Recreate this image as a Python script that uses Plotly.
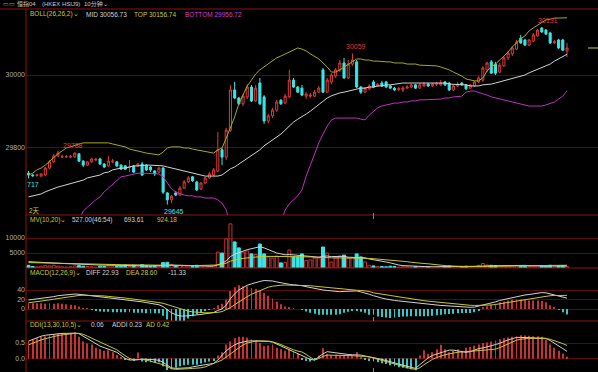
import plotly.graph_objects as go

W, H = 598, 372

# ---------------- data ----------------
idx = list(range(129))

open_ = [29731, 29726, 29725, 29723, 29726, 29745, 29762, 29778, 29775, 29776,
         29775, 29776, 29784, 29764, 29753, 29762, 29767, 29770, 29756, 29751,
         29762, 29762, 29753, 29751, 29747, 29751, 29751, 29756, 29753, 29748,
         29737, 29734, 29745, 29677, 29658, 29677, 29671, 29690, 29707, 29721,
         29707, 29688, 29704, 29718, 29726, 29737, 29795, 29775, 29849, 29959,
         29937, 29921, 29940, 29967, 29929, 29978, 29940, 29874, 29888, 29904,
         29931, 29923, 29940, 29986, 29967, 29964, 29942, 29942, 29942, 29953,
         30014, 29953, 29981, 29997, 30014, 30033, 29992, 30030, 30036, 29967,
         29953, 29962, 29981, 29970, 29978, 29981, 29970, 29964, 29961, 29959,
         29964, 29967, 29973, 29964, 29970, 29975, 29970, 29975, 29973, 29981,
         29978, 29959, 29970, 29978, 29973, 29964, 29970, 29981, 29986, 30014,
         30036, 30030, 30008, 30025, 30047, 30058, 30071, 30101, 30096, 30082,
         30093, 30107, 30129, 30123, 30115, 30088, 30096, 30096, 30066]

high = [29737, 29729, 29729, 29731, 29748, 29767, 29784, 29792, 29781, 29781,
        29781, 29788, 29786, 29767, 29764, 29773, 29773, 29773, 29759, 29778,
        29770, 29764, 29756, 29753, 29767, 29753, 29759, 29762, 29756, 29751,
        29740, 29748, 29748, 29679, 29671, 29682, 29696, 29712, 29723, 29723,
        29710, 29707, 29721, 29734, 29745, 29844, 29800, 29855, 29973, 29981,
        29940, 29948, 29975, 29973, 29973, 29992, 29945, 29893, 29910, 29932,
        29934, 29948, 30014, 29992, 29970, 29973, 29953, 29951, 29959, 29970,
        30019, 29992, 30005, 30019, 30041, 30047, 30041, 30059, 30041, 29970,
        29967, 29975, 29986, 29978, 29984, 29984, 29973, 29967, 29967, 29970,
        29973, 29975, 29975, 29978, 29981, 29978, 29978, 29981, 29986, 29984,
        29981, 29973, 29981, 29981, 29975, 29975, 29984, 29997, 30025, 30036,
        30041, 30036, 30033, 30052, 30066, 30079, 30096, 30110, 30099, 30099,
        30115, 30126, 30131, 30126, 30118, 30096, 30099, 30099, 30088]

low = [29717, 29721, 29721, 29721, 29723, 29742, 29759, 29775, 29773, 29773,
       29772, 29773, 29762, 29748, 29751, 29759, 29764, 29753, 29745, 29748,
       29759, 29748, 29740, 29740, 29734, 29731, 29748, 29723, 29737, 29734,
       29723, 29731, 29674, 29645, 29649, 29668, 29668, 29688, 29704, 29707,
       29682, 29685, 29701, 29715, 29723, 29734, 29753, 29767, 29844, 29934,
       29918, 29915, 29934, 29926, 29926, 29918, 29866, 29868, 29882, 29899,
       29918, 29921, 29937, 29964, 29951, 29942, 29934, 29937, 29940, 29951,
       29951, 29951, 29975, 29992, 30008, 29989, 29989, 30025, 29964, 29948,
       29951, 29959, 29964, 29967, 29967, 29964, 29962, 29956, 29956, 29953,
       29962, 29964, 29962, 29962, 29967, 29967, 29967, 29970, 29970, 29970,
       29956, 29956, 29967, 29970, 29959, 29962, 29967, 29978, 29981, 30008,
       30003, 30000, 30005, 30022, 30041, 30052, 30068, 30085, 30079, 30079,
       30090, 30104, 30115, 30110, 30085, 30085, 30071, 30066, 30049]

close = [29726, 29724, 29726, 29729, 29745, 29762, 29778, 29786, 29776, 29776,
         29777, 29786, 29764, 29753, 29762, 29770, 29769, 29756, 29748, 29764,
         29764, 29751, 29742, 29742, 29748, 29734, 29756, 29726, 29740, 29740,
         29729, 29745, 29679, 29658, 29668, 29671, 29690, 29707, 29718, 29710,
         29685, 29704, 29718, 29729, 29740, 29795, 29775, 29849, 29959, 29937,
         29921, 29942, 29967, 29929, 29964, 29921, 29874, 29888, 29904, 29926,
         29921, 29942, 29986, 29967, 29953, 29945, 29948, 29945, 29953, 29964,
         29953, 29986, 30000, 30014, 30033, 29992, 30030, 30041, 29967, 29953,
         29964, 29970, 29967, 29975, 29970, 29967, 29964, 29959, 29962, 29964,
         29967, 29973, 29964, 29973, 29975, 29970, 29975, 29976, 29978, 29973,
         29959, 29970, 29975, 29973, 29962, 29973, 29981, 29992, 30019, 30033,
         30005, 30005, 30027, 30047, 30060, 30074, 30090, 30088, 30082, 30096,
         30110, 30123, 30118, 30112, 30088, 30091, 30074, 30068, 30074]

boll_top = [29726, 29731, 29740, 29745, 29753, 29764, 29775, 29784, 29792, 29800,
            29803, 29808, 29811, 29814, 29814, 29814, 29814, 29814, 29814, 29814,
            29811, 29808, 29806, 29803, 29797, 29795, 29792, 29789, 29786, 29784,
            29784, 29781, 29789, 29800, 29803, 29803, 29803, 29800, 29800, 29797,
            29795, 29792, 29789, 29789, 29786, 29795, 29800, 29827, 29855, 29885,
            29921, 29948, 29970, 29986, 30003, 30014, 30022, 30030, 30038, 30047,
            30052, 30058, 30063, 30068, 30074, 30071, 30066, 30058, 30052, 30044,
            30033, 30022, 30008, 30008, 30014, 30022, 30030, 30038, 30044, 30044,
            30041, 30041, 30038, 30038, 30036, 30036, 30036, 30033, 30033, 30033,
            30030, 30030, 30030, 30027, 30027, 30027, 30025, 30025, 30022, 30019,
            30014, 30008, 30003, 29997, 29989, 29986, 29984, 29984, 29992, 30011,
            30022, 30030, 30041, 30052, 30063, 30077, 30088, 30099, 30107, 30121,
            30129, 30137, 30145, 30151, 30153, 30156, 30156, 30156, 30156.74]

boll_mid = [29666, 29669, 29671, 29674, 29680, 29685, 29688, 29693, 29696, 29699,
            29704, 29707, 29710, 29712, 29718, 29721, 29723, 29726, 29732, 29734,
            29740, 29743, 29745, 29745, 29748, 29751, 29751, 29753, 29753, 29753,
            29753, 29753, 29751, 29748, 29745, 29743, 29740, 29737, 29734, 29732,
            29729, 29726, 29723, 29723, 29723, 29723, 29726, 29734, 29743, 29748,
            29756, 29762, 29770, 29778, 29786, 29795, 29806, 29814, 29822, 29830,
            29838, 29849, 29860, 29871, 29879, 29885, 29893, 29901, 29910, 29921,
            29929, 29937, 29943, 29948, 29951, 29953, 29956, 29959, 29962, 29964,
            29964, 29967, 29967, 29970, 29970, 29973, 29973, 29975, 29975, 29978,
            29978, 29978, 29978, 29978, 29978, 29978, 29978, 29978, 29978, 29978,
            29975, 29975, 29973, 29973, 29973, 29970, 29970, 29970, 29973, 29973,
            29975, 29978, 29981, 29984, 29986, 29989, 29992, 29995, 30000, 30006,
            30011, 30014, 30019, 30025, 30030, 30038, 30044, 30052, 30056.73]

boll_bot = [None, None, None, None, None, None, None, None, None, None,
            None, None, 29603, 29627, 29638, 29649, 29658, 29666, 29680, 29690,
            29701, 29712, 29721, 29723, 29726, 29729, 29731, 29731, 29731, 29731,
            29731, 29729, 29721, 29704, 29688, 29679, 29674, 29671, 29669, 29669,
            29666, 29666, 29663, 29663, 29663, 29658, 29649, 29630, 29589, None,
            None, None, None, None, None, None, None, None, None, None,
            29597, 29630, 29647, 29658, 29669, 29685, 29723, 29753, 29786, 29814,
            29838, 29860, 29877, 29882, 29882, 29882, 29882, 29882, 29882, 29879,
            29877, 29890, 29901, 29910, 29915, 29918, 29921, 29923, 29923, 29926,
            29926, 29929, 29929, 29932, 29932, 29932, 29934, 29934, 29934, 29937,
            29937, 29940, 29940, 29942, 29953, 29956, 29956, 29953, 29948, 29945,
            29940, 29937, 29934, 29932, 29929, 29926, 29923, 29921, 29918, 29915,
            29915, 29915, 29915, 29918, 29921, 29926, 29934, 29942, 29956.72]

volume = [900, 500, 400, 600, 800, 700, 900, 600, 400, 300,
          400, 700, 800, 600, 500, 400, 300, 600, 500, 700,
          400, 500, 600, 1000, 500, 900, 400, 1100, 800, 600,
          700, 500, 1800, 1900, 1200, 700, 800, 700, 600, 500,
          900, 600, 700, 600, 800, 5300, 5000, 9700, 14700, 8700,
          6700, 5300, 5700, 4700, 4500, 8000, 4700, 3700, 3300, 4000,
          1700, 1800, 6000, 3700, 3700, 4700, 2500, 2700, 3300, 3300,
          7000, 5000, 2000, 3300, 4000, 4300, 3300, 3500, 4700, 3700,
          2000, 900, 700, 500, 500, 400, 600, 500, 300, 400,
          400, 300, 500, 400, 300, 400, 300, 300, 500, 400,
          700, 400, 300, 400, 600, 400, 500, 900, 1500, 1000,
          900, 800, 700, 700, 600, 600, 700, 800, 600, 500,
          600, 700, 800, 600, 900, 400, 700, 800, 527]

mv10 = [2100, 2000, 1900, 1850, 1800, 1700, 1650, 1600, 1500, 1450,
        1400, 1300, 1250, 1200, 1150, 1100, 1050, 1000, 950, 900,
        850, 800, 750, 700, 700, 700, 650, 700, 700, 700,
        700, 650, 750, 900, 950, 950, 950, 950, 950, 900,
        900, 850, 700, 600, 650, 1100, 1500, 2400, 3800, 4600,
        5200, 5600, 6100, 6400, 6800, 7100, 6700, 6100, 5500, 5000,
        4700, 4400, 4500, 4400, 4300, 4100, 3900, 3800, 3700, 3600,
        3900, 4000, 3800, 3800, 3900, 3900, 3600, 3600, 3600, 3600,
        3400, 3000, 2800, 2600, 2400, 2000, 1700, 1300, 1000, 800,
        700, 600, 500, 450, 450, 420, 400, 400, 400, 400,
        430, 430, 420, 420, 440, 450, 460, 500, 600, 670,
        720, 760, 800, 830, 860, 880, 900, 900, 880, 780,
        720, 690, 690, 680, 700, 680, 690, 700, 693.61]

mv20 = [1800, 1780, 1750, 1720, 1700, 1670, 1640, 1600, 1570, 1540,
        1500, 1470, 1440, 1400, 1370, 1340, 1300, 1270, 1240, 1200,
        1170, 1140, 1100, 1070, 1040, 1000, 970, 950, 930, 900,
        880, 860, 880, 900, 900, 880, 860, 840, 830, 820,
        820, 810, 800, 790, 800, 1000, 1200, 1600, 2300, 2700,
        3000, 3200, 3400, 3500, 3600, 3800, 3900, 3900, 3900, 3900,
        3900, 3900, 3900, 3800, 3800, 3800, 3800, 3700, 3600, 3500,
        3500, 3400, 3400, 3400, 3400, 3400, 3400, 3400, 3400, 3300,
        3300, 3200, 3100, 3000, 2900, 2700, 2600, 2500, 2300, 2200,
        2100, 1900, 1700, 1600, 1500, 1400, 1200, 1100, 900, 800,
        700, 600, 550, 500, 480, 460, 460, 480, 520, 550,
        580, 600, 630, 650, 680, 700, 720, 740, 760, 780,
        800, 820, 840, 860, 880, 890, 900, 910, 924.18]

macd_diff = [19, 20, 21, 22, 23, 25, 26, 28, 29, 30,
             31, 31.5, 31, 30, 29.5, 28.5, 27, 25.5, 24.5, 23.5,
             22.5, 21.5, 20.5, 19.5, 18.5, 17, 16, 15, 13.5, 12,
             10.5, 9, 5, -2, -8, -12, -14.5, -15, -14.5, -13.5,
             -12.5, -11.5, -10, -8.5, -7.5, -3, 0, 8, 22, 32,
             40, 45, 50, 53, 56, 58, 60, 60, 59, 57,
             55, 53, 52, 51, 50.5, 49, 47, 45, 43, 41,
             40, 39, 38, 37, 36.5, 37, 37.5, 38.5, 38, 36,
             34, 31, 28, 25, 23, 21, 19, 18, 17, 16,
             14.5, 13.5, 12, 11, 10, 9, 8.5, 8, 7.5, 7,
             6.3, 5.5, 5, 4.5, 4, 3.6, 4, 6, 9, 11,
             13, 15, 18, 20, 22.5, 25, 27, 28.5, 29.5, 30.5,
             32, 33.5, 34.5, 34, 32, 30, 28, 25.5, 22.93]

macd_dea = [13, 14, 15, 16, 17.5, 19, 20.5, 22, 23.5, 25,
            26.5, 27.5, 28.5, 29, 29, 29, 28.5, 28, 27.5, 26.5,
            26, 25, 24, 23, 22, 21, 20, 19, 18, 16.5,
            15, 13.5, 12, 9, 6, 3, 0, -2.5, -4.5, -6,
            -7, -7.5, -8, -8, -8, -7, -5.5, -2, 3, 9,
            15, 21, 26, 31, 35, 39, 43, 46, 48, 49.5,
            50, 50.5, 50.5, 50.5, 50.5, 50, 49.5, 49, 48, 47,
            46, 45, 44, 43, 42, 41, 40.5, 40, 39.5, 39,
            38, 37, 34, 33, 31.5, 30, 28.5, 27, 25.5, 24,
            22.5, 21, 19.5, 18.5, 17.5, 16.5, 15.5, 14.5, 13.5, 12.5,
            11.5, 10.5, 9.5, 8.8, 8.2, 7.8, 7.5, 7.5, 7.5, 8,
            8.5, 9.5, 11, 12, 13.5, 15, 17, 18.5, 20, 21.5,
            23, 24.5, 26, 27, 28, 28.5, 28.8, 28.8, 28.60]

ddi = [0.55, 0.6, 0.65, 0.7, 0.72, 0.75, 0.78, 0.8, 0.82, 0.8,
       0.82, 0.84, 0.7, 0.55, 0.48, 0.45, 0.35, 0.3, 0.25, 0.27,
       0.2, 0.12, 0.05, -0.03, -0.05, -0.08, 0.19, -0.1, -0.12, -0.12,
       -0.14, -0.12, -0.25, -0.37, -0.35, -0.3, -0.25, -0.22, -0.2, -0.2,
       -0.2, -0.16, -0.13, -0.1, -0.08, 0.1, 0.2, 0.45, 0.55, 0.65,
       0.7, 0.7, 0.68, 0.62, 0.6, 0.5, 0.4, 0.42, 0.45, 0.35,
       0.3, 0.25, 0.28, 0.2, 0.15, -0.05, -0.08, -0.1, -0.05, 0.1,
       0.33, 0.15, 0.1, 0.12, 0.1, 0.08, 0.1, 0.12, 0.2, 0.05,
       -0.05, -0.08, -0.1, -0.12, -0.15, -0.18, -0.22, -0.25, -0.28, -0.3,
       -0.32, -0.35, -0.38, 0.1, 0.27, 0.15, 0.2, 0.3, 0.44, 0.3,
       0.2, 0.25, 0.3, 0.25, 0.35, 0.38, 0.42, 0.45, 0.5, 0.52,
       0.55, 0.58, 0.62, 0.65, 0.68, 0.7, 0.72, 0.75, 0.74, 0.73,
       0.72, 0.72, 0.7, 0.6, 0.45, 0.35, 0.25, 0.15, 0.06]

addi = [0.56, 0.62, 0.68, 0.72, 0.75, 0.77, 0.78, 0.8, 0.81, 0.81,
        0.82, 0.82, 0.8, 0.72, 0.62, 0.55, 0.47, 0.4, 0.35, 0.3,
        0.25, 0.2, 0.1, 0.0, -0.05, -0.05, -0.04, -0.02, -0.02, -0.03,
        -0.04, -0.06, -0.12, -0.22, -0.3, -0.32, -0.32, -0.32, -0.3, -0.27,
        -0.24, -0.21, -0.2, -0.18, -0.16, -0.05, 0.1, 0.25, 0.35, 0.44,
        0.5, 0.54, 0.56, 0.57, 0.57, 0.57, 0.56, 0.55, 0.53, 0.47,
        0.4, 0.33, 0.27, 0.22, 0.16, 0.11, 0.05, -0.03, -0.05, 0.05,
        0.15, 0.22, 0.2, 0.17, 0.15, 0.14, 0.13, 0.12, 0.12, 0.11,
        0.08, 0.06, 0.04, 0.0, -0.03, -0.06, -0.1, -0.14, -0.18, -0.22,
        -0.26, -0.3, -0.32, -0.2, -0.08, 0.02, 0.1, 0.14, 0.18, 0.23,
        0.27, 0.27, 0.25, 0.22, 0.2, 0.22, 0.27, 0.32, 0.34, 0.37,
        0.41, 0.45, 0.49, 0.55, 0.6, 0.64, 0.68, 0.68, 0.67, 0.67,
        0.67, 0.66, 0.66, 0.65, 0.58, 0.5, 0.42, 0.32, 0.23]

ad = [0.44, 0.5, 0.55, 0.6, 0.64, 0.68, 0.71, 0.74, 0.76, 0.78,
      0.8, 0.81, 0.81, 0.78, 0.72, 0.66, 0.6, 0.54, 0.48, 0.42,
      0.35, 0.28, 0.18, 0.08, 0.0, -0.04, -0.03, -0.03, -0.05, -0.09,
      -0.13, -0.16, -0.2, -0.27, -0.33, -0.35, -0.35, -0.34, -0.33, -0.32,
      -0.32, -0.3, -0.27, -0.22, -0.17, -0.12, -0.05, 0.05, 0.15, 0.27,
      0.36, 0.44, 0.5, 0.54, 0.56, 0.57, 0.57, 0.56, 0.54, 0.5,
      0.45, 0.39, 0.33, 0.28, 0.24, 0.21, 0.13, 0.04, -0.05, 0.0,
      0.07, 0.11, 0.11, 0.1, 0.1, 0.09, 0.09, 0.09, 0.08, 0.08,
      0.07, 0.05, 0.02, -0.02, -0.06, -0.1, -0.14, -0.18, -0.22, -0.26,
      -0.3, -0.33, -0.35, -0.3, -0.2, -0.1, -0.03, 0.03, 0.08, 0.12,
      0.15, 0.18, 0.2, 0.21, 0.22, 0.22, 0.23, 0.24, 0.25, 0.26,
      0.27, 0.3, 0.35, 0.41, 0.48, 0.54, 0.59, 0.62, 0.64, 0.65,
      0.65, 0.65, 0.65, 0.64, 0.62, 0.58, 0.53, 0.48, 0.42]

# tick labels
price_ticks = [29800, 30000]
vol_ticks = [5000, 10000]
macd_ticks = [0, 20, 40]
ddi_ticks = [0.0, 0.5]
ddi_ticktext = ["0.0", "0.5"]

# ---------------- styling ----------------
BG = "#000000"
RED = "#e03a3a"
BARRED = "#c83232"
CYAN = "#3ae6e6"
YEL = "#c8c832"
WHITE = "#d2d2d2"
MAG = "#c030c0"
GRID = "#5a0808"
SEP = "#8a1616"
TICK = "#b0b0b0"
FONT = "Liberation Sans, Arial, Noto Sans CJK SC, sans-serif"


def ydom(top_px, bot_px):
    return [1 - bot_px / H, 1 - top_px / H]


fig = go.Figure()

# main candles
fig.add_trace(go.Candlestick(
    x=idx, open=open_, high=high, low=low, close=close,
    increasing=dict(line=dict(color=RED, width=1), fillcolor="rgba(0,0,0,0)"),
    decreasing=dict(line=dict(color=CYAN, width=1), fillcolor=CYAN),
    xaxis="x", yaxis="y", showlegend=False, hoverinfo="skip"))

for ser, col in [(boll_top, "#a8a824"), (boll_mid, WHITE), (boll_bot, MAG)]:
    fig.add_trace(go.Scatter(x=idx, y=ser, mode="lines", line=dict(color=col, width=1),
                             xaxis="x", yaxis="y", showlegend=False, hoverinfo="skip",
                             connectgaps=False))

# volume
up = [c >= o for o, c in zip(open_, close)]
fig.add_trace(go.Bar(
    x=idx, y=volume, width=0.7,
    marker=dict(color=["rgba(0,0,0,0)" if u else CYAN for u in up],
                line=dict(color=[BARRED if u else CYAN for u in up], width=1)),
    xaxis="x", yaxis="y2", showlegend=False, hoverinfo="skip"))
fig.add_trace(go.Scatter(x=idx, y=mv10, mode="lines", line=dict(color=WHITE, width=1),
                         xaxis="x", yaxis="y2", showlegend=False, hoverinfo="skip"))
fig.add_trace(go.Scatter(x=idx, y=mv20, mode="lines", line=dict(color=YEL, width=1),
                         xaxis="x", yaxis="y2", showlegend=False, hoverinfo="skip"))

# MACD
macd_bar = [2 * (d - e) for d, e in zip(macd_diff, macd_dea)]
fig.add_trace(go.Bar(
    x=idx, y=macd_bar, width=0.22,
    marker=dict(color=[BARRED if v >= 0 else "#30c8c8" for v in macd_bar], line=dict(width=0)),
    xaxis="x", yaxis="y3", showlegend=False, hoverinfo="skip"))
fig.add_trace(go.Scatter(x=idx, y=macd_diff, mode="lines", line=dict(color=WHITE, width=1),
                         xaxis="x", yaxis="y3", showlegend=False, hoverinfo="skip"))
fig.add_trace(go.Scatter(x=idx, y=macd_dea, mode="lines", line=dict(color=YEL, width=1),
                         xaxis="x", yaxis="y3", showlegend=False, hoverinfo="skip"))

# DDI
fig.add_trace(go.Bar(
    x=idx, y=ddi, width=0.22,
    marker=dict(color=[BARRED if v >= 0 else "#30c8c8" for v in ddi], line=dict(width=0)),
    xaxis="x", yaxis="y4", showlegend=False, hoverinfo="skip"))
fig.add_trace(go.Scatter(x=idx, y=addi, mode="lines", line=dict(color=WHITE, width=1),
                         xaxis="x", yaxis="y4", showlegend=False, hoverinfo="skip"))
fig.add_trace(go.Scatter(x=idx, y=ad, mode="lines", line=dict(color=YEL, width=1),
                         xaxis="x", yaxis="y4", showlegend=False, hoverinfo="skip"))

# ---------------- axes ----------------
x0_px = 26
xstep = 4.207
xfirst = 28.5
xr = [(x0_px - xfirst) / xstep, (W - xfirst) / xstep]

common_y = dict(anchor="x", showgrid=True, gridcolor=GRID, gridwidth=1, zeroline=False,
                showline=False, ticks="", tickfont=dict(family=FONT, size=7, color=TICK),
                fixedrange=True)

fig.update_layout(
    width=W, height=H, margin=dict(l=0, r=0, t=0, b=0),
    paper_bgcolor=BG, plot_bgcolor=BG, barmode="overlay", showlegend=False,
    xaxis=dict(domain=[x0_px / W, 1], range=xr, visible=False, showgrid=False,
               rangeslider=dict(visible=False), fixedrange=True),
    yaxis=dict(domain=ydom(10, 215), range=[30205.5 - 2.74 * 215, 30205.5 - 2.74 * 10],
               tickvals=price_ticks, ticktext=[str(v) for v in price_ticks], **common_y),
    yaxis2=dict(domain=ydom(215, 268), range=[0, 53 * 10000 / 30],
                tickvals=vol_ticks, ticktext=[str(v) for v in vol_ticks], **common_y),
    yaxis3=dict(domain=ydom(268, 321), range=[(309 - 321) * 2.105, (309 - 268) * 2.105],
                tickvals=macd_ticks, ticktext=[str(v) for v in macd_ticks], **common_y),
    yaxis4=dict(domain=ydom(321, 372), range=[(358.5 - 372) / 31, (358.5 - 321) / 31],
                tickvals=ddi_ticks, ticktext=ddi_ticktext, **common_y),
)

# ---------------- frame lines ----------------
shapes = []
shapes.append(dict(type="line", xref="paper", yref="paper", x0=0, x1=1,
                   y0=1 - 9 / H, y1=1 - 9 / H, line=dict(color=SEP, width=1)))
shapes.append(dict(type="line", xref="paper", yref="paper", x0=x0_px / W, x1=x0_px / W,
                   y0=0, y1=1 - 9 / H, line=dict(color=SEP, width=1)))
for py in [215, 268, 321]:
    shapes.append(dict(type="line", xref="paper", yref="paper", x0=x0_px / W, x1=1,
                       y0=1 - py / H, y1=1 - py / H, line=dict(color=SEP, width=1.2)))
# last price marker at right edge
shapes.append(dict(type="line", xref="x", yref="y", x0=133, x1=xr[1],
                   y0=close[-1], y1=close[-1], line=dict(color="#8a8a22", width=1.5)))
# session separator ticks
for py0, py1 in [(213, 219), (317, 321), (368, 372)]:
    shapes.append(dict(type="line", xref="x", yref="paper", x0=82, x1=82,
                       y0=1 - py1 / H, y1=1 - py0 / H, line=dict(color="#888888", width=1)))
fig.update_layout(shapes=shapes)

# ---------------- texts ----------------
ann = []


def txt(s, px, py, color, size=6.5):
    ann.append(dict(text=s, xref="paper", yref="paper", x=px / W, y=1 - py / H,
                    xanchor="left", yanchor="middle", showarrow=False,
                    font=dict(family=FONT, size=size, color=color)))


txt("▭▭", 1, 4.5, "#9a9a9a", 6)
txt("恒指04", 15, 4.5, "#c8c8c8", 6)
txt("(HKEX HSIJ9)", 40, 4.5, "#c8c8c8", 6)
txt("10分钟⌄", 82, 4.5, "#c8c8c8", 6)

txt("BOLL(26,26,2)⌄", 28, 14.5, YEL)
txt("MID 30056.73", 84, 14.5, WHITE)
txt("TOP 30156.74", 132, 14.5, YEL)
txt("BOTTOM 29956.72", 183, 14.5, "#d040d0")

txt("2天", 27, 211, YEL)

txt("MV(10,20)⌄", 28, 219.5, YEL)
txt("527.00(46:54)", 70, 219.5, WHITE)
txt("693.61", 122, 219.5, WHITE)
txt("924.18", 155, 219.5, YEL)

txt("MACD(12,26,9)⌄", 28, 272.5, YEL)
txt("DIFF 22.93", 84, 272.5, WHITE)
txt("DEA 28.60", 124, 272.5, YEL)
txt("-11.33", 166, 272.5, WHITE)

txt("DDI(13,30,10,5)⌄", 28, 324.5, YEL)
txt("0.06", 89, 324.5, WHITE)
txt("ADDI 0.23", 110, 324.5, WHITE)
txt("AD 0.42", 144, 324.5, YEL)

# extreme price labels tied to data
def plabel(i, val, text, color, below=False, xshift=0):
    ann.append(dict(text=text, xref="x", yref="y", x=i, y=val,
                    xanchor="center", yanchor="top" if below else "bottom",
                    yshift=-1 if below else 1, xshift=xshift, showarrow=False,
                    font=dict(family=FONT, size=7, color=color)))


imax_a = 11
plabel(imax_a, high[imax_a], str(high[imax_a]), RED, xshift=-2)
imax_b = 77
plabel(imax_b, high[imax_b], str(high[imax_b]), RED, xshift=4)
imax_c = 122
plabel(imax_c, high[imax_c], str(high[imax_c]), RED, xshift=6)
imin = 33
plabel(imin, low[imin], str(low[imin]), CYAN, below=True, xshift=7)
plabel(0, low[0], str(low[0])[-3:], CYAN, below=True, xshift=4)

fig.update_layout(annotations=ann)

fig.write_html("out.html", config={"displayModeBar": False},
               post_script="document.body.style.margin='0';document.body.style.background='#000';")
